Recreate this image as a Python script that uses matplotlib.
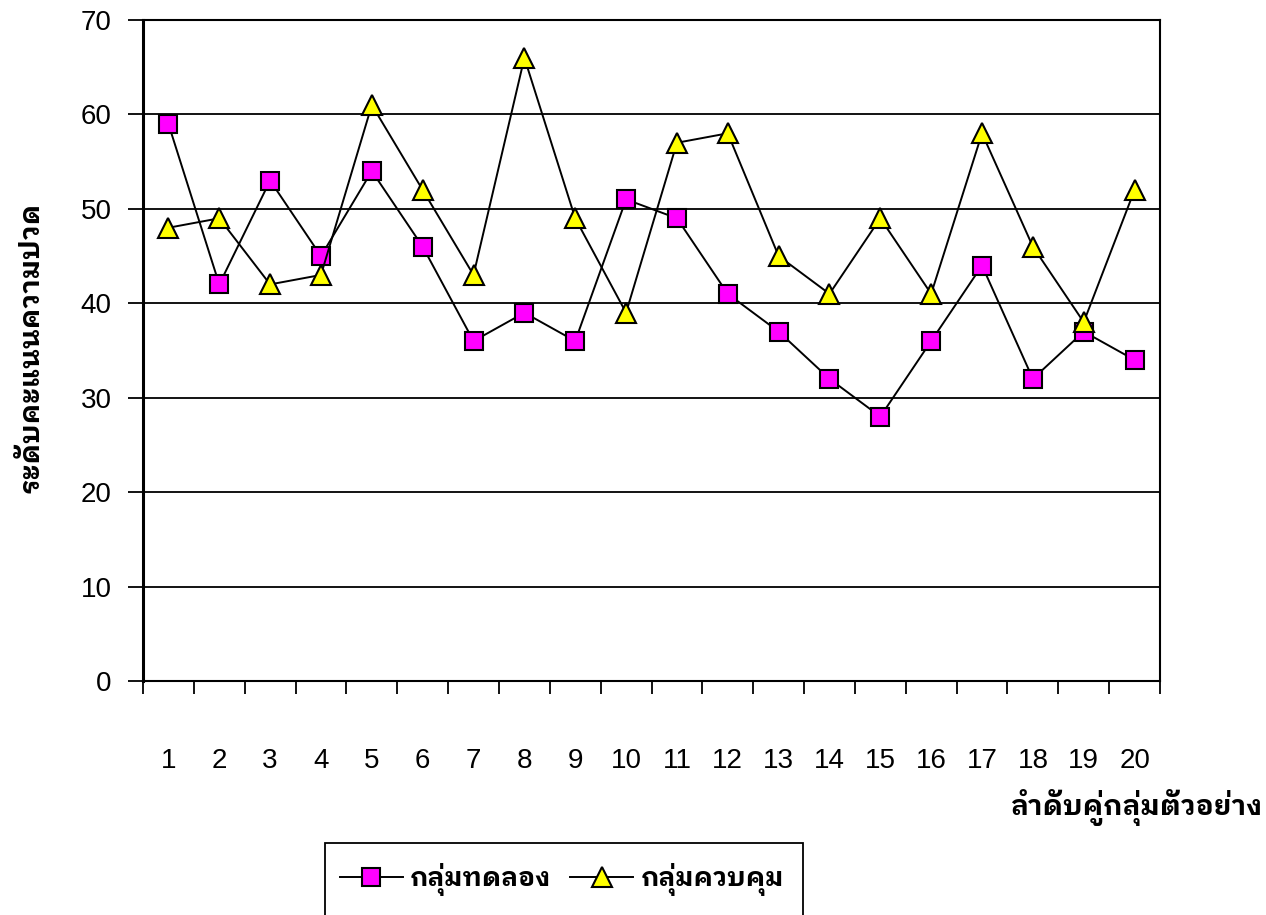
import numpy as np
import matplotlib
matplotlib.use("Agg")
import matplotlib.pyplot as plt
from matplotlib.patches import Rectangle
from matplotlib.ticker import FixedLocator, NullFormatter

# pain scores per matched pair
pairs = list(range(1, 21))
experimental = [59, 42, 53, 45, 54, 46, 36, 39, 36, 51, 49, 41, 37, 32, 28, 36, 44, 32, 37, 34]
control = [48, 49, 42, 43, 61, 52, 43, 66, 49, 39, 57, 58, 45, 41, 49, 41, 58, 46, 38, 52]
series_names = ["กลุ่มทดลอง", "กลุ่มควบคุม"]
y_ticks = [0, 10, 20, 30, 40, 50, 60, 70]

thai = ["IBM Plex Sans Thai Looped", "Noto Sans Thai Looped", "Sarabun", "DejaVu Sans"]
plt.rcParams["font.family"] = ["Liberation Sans", "DejaVu Sans"]

W, H = 1266, 915
fig = plt.figure(figsize=(W / 100, H / 100), dpi=100)
ax = fig.add_axes([143 / W, 1 - 681 / H, 1017 / W, 661 / H])

ax.plot(pairs, experimental, color="black", lw=1.4, marker="s", ms=13.5,
        mfc="#ff00ff", mec="black", mew=1.5, label=series_names[0], zorder=3)
ax.plot(pairs, control, color="black", lw=1.4, marker="^", ms=15,
        mfc="#ffff00", mec="black", mew=1.5, label=series_names[1], zorder=3)

ax.set_xlim(0.5, 20.5)
ax.set_ylim(0, 70)
ax.set_yticks(y_ticks)
ax.yaxis.grid(True, color="black", lw=1.3)
ax.set_axisbelow(True)

# tick marks on the category boundaries, numbers under the category centres
ax.xaxis.set_major_locator(FixedLocator(np.arange(0.5, 21, 1)))
ax.xaxis.set_major_formatter(NullFormatter())
ax.xaxis.set_minor_locator(FixedLocator(pairs))
ax.set_xticklabels([str(p) for p in pairs], minor=True)
ax.tick_params(axis="x", which="major", direction="out", length=9.5, width=1.3)
ax.tick_params(axis="x", which="minor", length=0, pad=48, labelsize=20)
ax.tick_params(axis="y", direction="out", length=10.5, width=1.3, labelsize=20, pad=12)

for name, s in ax.spines.items():
    s.set_color("black")
    s.set_linewidth(2.2 if name == "left" else 1.5)

fig.text(31 / W, 1 - 347 / H, "ระดับคะแนนความปวด", rotation=90,
         ha="center", va="center", fontsize=20, fontweight="bold", family=thai)
fig.text(1262 / W, 1 - 808 / H, "ลำดับคู่กลุ่มตัวอย่าง",
         ha="right", va="center", fontsize=20, fontweight="bold", family=thai)

# legend entries without their own frame; the box is drawn separately
# so it can run off the bottom edge of the figure
fig.legend(loc="center left", bbox_to_anchor=(325 / W, 1 - 880 / H),
           borderaxespad=0, ncol=2, frameon=False,
           handlelength=2.4, handletextpad=0.28, columnspacing=0.7, borderpad=0.55,
           prop={"family": thai, "weight": "bold", "size": 19})
fig.patches.append(Rectangle((325 / W, 1 - 925 / H), 478 / W, 82 / H,
                             transform=fig.transFigure, fill=False,
                             ec="black", lw=1.3))

fig.savefig("out.png", dpi=100)
